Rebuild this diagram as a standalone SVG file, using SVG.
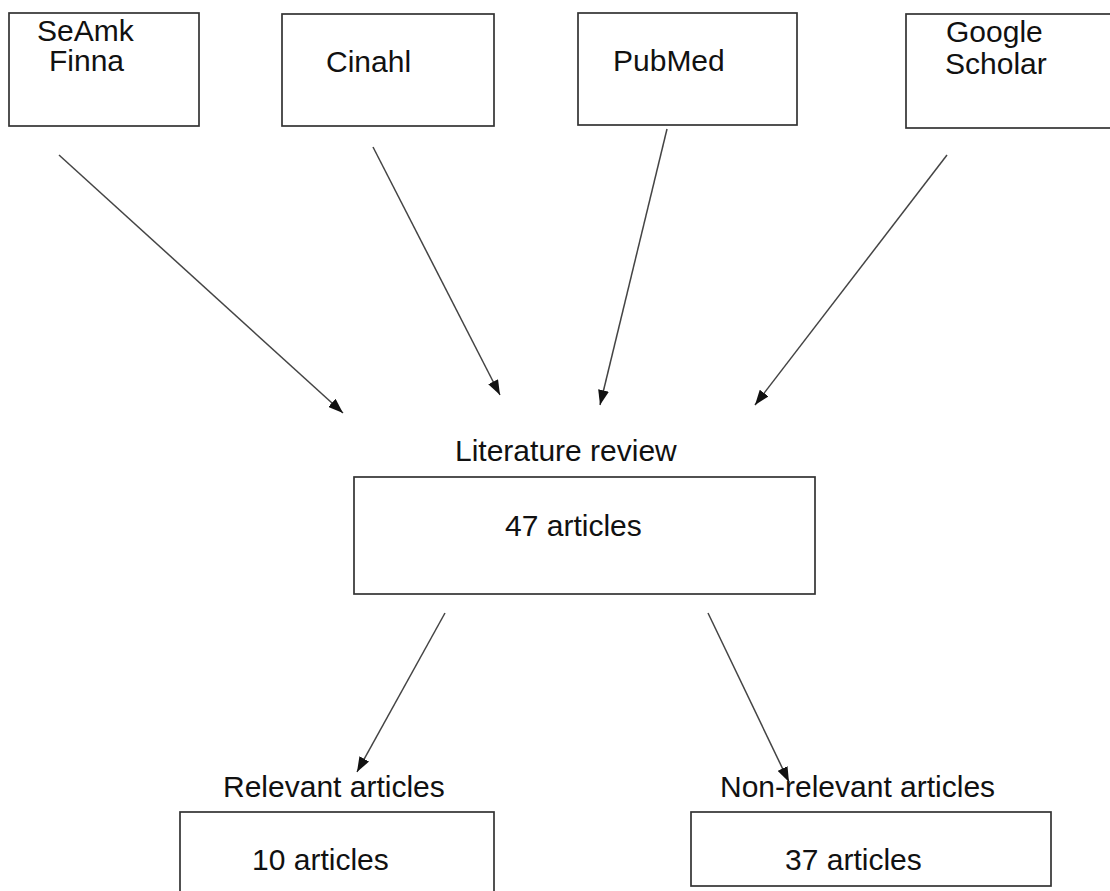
<svg xmlns="http://www.w3.org/2000/svg" width="1110" height="891" viewBox="0 0 1110 891">
<defs>
<marker id="ah" viewBox="0 0 15 11" refX="15" refY="5.5" markerWidth="15" markerHeight="11" markerUnits="userSpaceOnUse" orient="auto">
<path d="M0,0 L15,5.5 L0,11 z" fill="#111"/>
</marker>
<style>
.box{fill:#fff;stroke:#333;stroke-width:1.7}
.t{font-family:"Liberation Sans",Arial,sans-serif;font-size:30px;fill:#111}
.c{stroke:#444;stroke-width:1.5;fill:none;marker-end:url(#ah)}
</style>
</defs>
<rect width="1110" height="891" fill="#fff"/>
<g id="seamk">
<rect class="box" x="9" y="13" width="190" height="113"/>
<text class="t" x="37" y="41">SeAmk</text>
<text class="t" x="49" y="71">Finna</text>
</g>
<g id="cinahl">
<rect class="box" x="282" y="14" width="212" height="112"/>
<text class="t" x="326" y="72">Cinahl</text>
</g>
<g id="pubmed">
<rect class="box" x="578" y="13" width="219" height="112"/>
<text class="t" x="613" y="71">PubMed</text>
</g>
<g id="google">
<rect class="box" x="906" y="14" width="220" height="114"/>
<text class="t" x="946" y="42">Google</text>
<text class="t" x="945" y="74">Scholar</text>
</g>
<g id="review">
<text class="t" x="455" y="461">Literature review</text>
<rect class="box" x="354" y="477" width="461" height="117"/>
<text class="t" x="505" y="536">47 articles</text>
</g>
<g id="relevant">
<text class="t" x="223" y="797">Relevant articles</text>
<rect class="box" x="180" y="812" width="314" height="90"/>
<text class="t" x="252" y="870">10 articles</text>
</g>
<g id="nonrelevant">
<text class="t" x="720" y="797">Non-relevant articles</text>
<rect class="box" x="691" y="812" width="360" height="74"/>
<text class="t" x="785" y="870">37 articles</text>
</g>
<g id="connectors">
<line class="c" x1="59" y1="155" x2="343" y2="413"/>
<line class="c" x1="373" y1="147" x2="500" y2="395"/>
<line class="c" x1="667" y1="129" x2="600" y2="405"/>
<line class="c" x1="947" y1="155" x2="755" y2="405"/>
<line class="c" x1="445" y1="613" x2="357" y2="772"/>
<line class="c" x1="708" y1="613" x2="789" y2="782"/>
</g>
</svg>
